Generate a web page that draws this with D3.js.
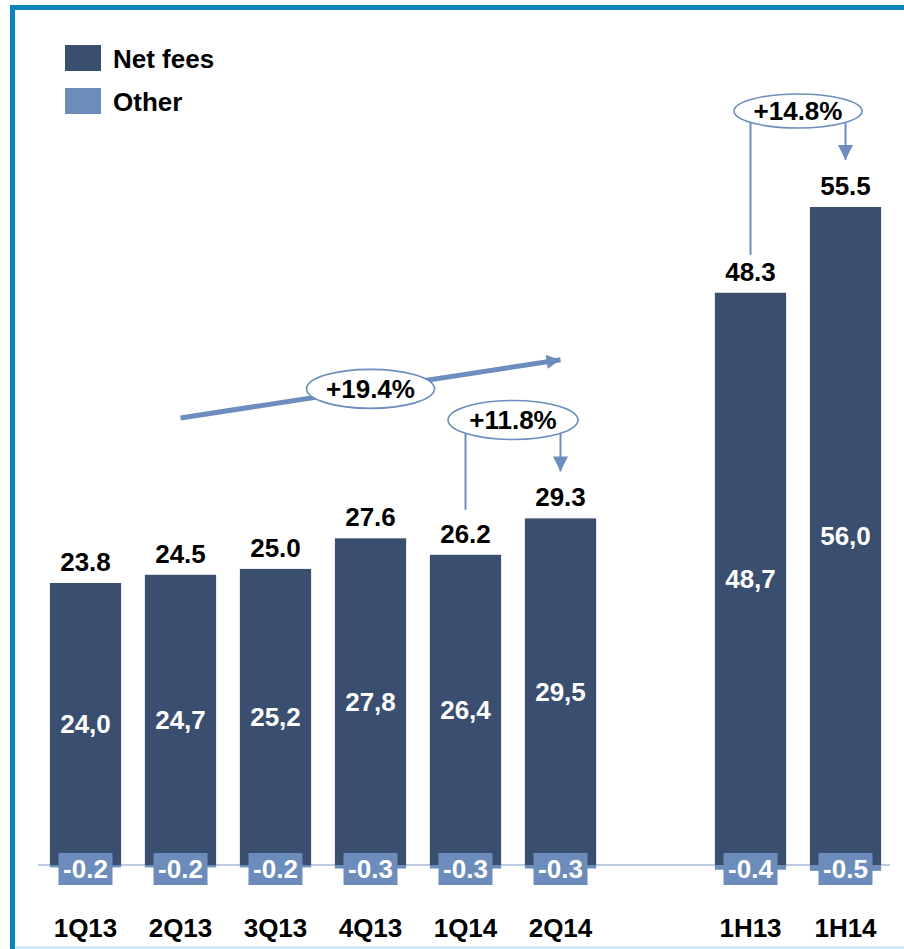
<!DOCTYPE html>
<html>
<head>
<meta charset="utf-8">
<script src="https://cdn.jsdelivr.net/npm/d3@7"></script>
<style>
  body { margin: 0; background: #fff; }
  svg text { font-family: "Liberation Sans", Arial, sans-serif; font-weight: bold; }
</style>
</head>
<body>
<div id="chart"></div>
<script>
// data
const categories = ["1Q13", "2Q13", "3Q13", "4Q13", "1Q14", "2Q14", "1H13", "1H14"];
const netFees = [24.0, 24.7, 25.2, 27.8, 26.4, 29.5, 48.7, 56.0];
const other = [-0.2, -0.2, -0.2, -0.3, -0.3, -0.3, -0.4, -0.5];
const totals = [23.8, 24.5, 25.0, 27.6, 26.2, 29.3, 48.3, 55.5];
const seriesNames = ["Net fees", "Other"];

const width = 904, height = 949;
const navy = "#3a4e70", light = "#6c8cbb", arrowCol = "#6c8dbd";
const fs = 26;

var svg = d3.select("#chart").append("svg")
  .attr("width", width)
  .attr("height", height);

// frame
svg.append("rect").attr("x", 10).attr("y", 5).attr("width", width).attr("height", 5).attr("fill", "#0a85ba");
svg.append("rect").attr("x", 10).attr("y", 5).attr("width", 5).attr("height", height).attr("fill", "#0a85ba");
svg.append("rect").attr("x", 15).attr("y", 946).attr("width", width).attr("height", 3).attr("fill", "#d4ecf6");

// a blank slot between quarters and halves
const domain = [...categories.slice(0, 6), "_gap", ...categories.slice(6)];

var x = d3.scaleBand()
  .domain(domain)
  .range([38, 893])
  .paddingInner(0.25)
  .paddingOuter(0.125);

var y = d3.scaleLinear()
  .domain([0, 56])
  .range([865, 207]);

const cx = c => x(c) + x.bandwidth() / 2;
const data = categories.map((c, i) => ({ key: c, net: netFees[i], other: other[i], total: totals[i] }));

// baseline
svg.append("line")
  .attr("x1", 38).attr("x2", 890)
  .attr("y1", y(0)).attr("y2", y(0))
  .attr("stroke", "#bccbe2").attr("stroke-width", 2);

// net fees bars
svg.selectAll(".bar")
  .data(data)
  .enter()
  .append("rect")
  .attr("class", "bar")
  .attr("x", d => x(d.key))
  .attr("width", x.bandwidth())
  .attr("y", d => y(d.net))
  .attr("height", d => y(0) - y(d.net))
  .style("fill", navy);

// other (negative) bars
svg.selectAll(".neg")
  .data(data)
  .enter()
  .append("rect")
  .attr("class", "neg")
  .attr("x", d => x(d.key))
  .attr("width", x.bandwidth())
  .attr("y", y(0))
  .attr("height", d => y(d.other) - y(0))
  .style("fill", light);

// labels inside bars
svg.selectAll(".inner")
  .data(data)
  .enter()
  .append("text")
  .attr("class", "inner")
  .attr("x", d => cx(d.key))
  .attr("y", d => (y(d.net) + y(0)) / 2 + 9)
  .attr("text-anchor", "middle")
  .attr("font-size", fs)
  .attr("fill", "#fff")
  .text(d => d.net.toFixed(1).replace(".", ","));

// totals above bars
svg.selectAll(".total")
  .data(data)
  .enter()
  .append("text")
  .attr("class", "total")
  .attr("x", d => cx(d.key))
  .attr("y", d => y(d.net) - 12)
  .attr("text-anchor", "middle")
  .attr("font-size", fs)
  .attr("fill", "#000")
  .text(d => d.total.toFixed(1));

// other value boxes
var boxes = svg.selectAll(".otherBox")
  .data(data)
  .enter()
  .append("g")
  .attr("class", "otherBox")
  .attr("transform", d => `translate(${cx(d.key)}, ${y(0) + 4})`);

boxes.append("rect")
  .attr("x", -27).attr("y", -16)
  .attr("width", 54).attr("height", 32)
  .attr("fill", light);

boxes.append("text")
  .attr("y", 9)
  .attr("text-anchor", "middle")
  .attr("font-size", fs)
  .attr("fill", "#fff")
  .text(d => d.other.toFixed(1));

// category labels
svg.selectAll(".cat")
  .data(categories)
  .enter()
  .append("text")
  .attr("class", "cat")
  .attr("x", d => cx(d))
  .attr("y", 937)
  .attr("text-anchor", "middle")
  .attr("font-size", fs)
  .attr("fill", "#000")
  .text(d => d);

// legend
var legend = svg.selectAll(".legend")
  .data(seriesNames)
  .enter()
  .append("g")
  .attr("class", "legend")
  .attr("transform", (d, i) => `translate(65, ${45 + i * 43})`);

legend.append("rect")
  .attr("width", 36).attr("height", 26)
  .attr("fill", (d, i) => i === 0 ? navy : light);

legend.append("text")
  .attr("x", 48).attr("y", 23)
  .attr("font-size", fs)
  .attr("fill", "#000")
  .text(d => d);

// arrow markers
var defs = svg.append("defs");
defs.append("marker")
  .attr("id", "headBig")
  .attr("viewBox", "0 0 10 10")
  .attr("refX", 10).attr("refY", 5)
  .attr("markerUnits", "userSpaceOnUse")
  .attr("markerWidth", 16).attr("markerHeight", 14)
  .attr("orient", "auto")
  .append("path").attr("d", "M0,0 L10,5 L0,10 Z").attr("fill", arrowCol);

defs.append("marker")
  .attr("id", "headSmall")
  .attr("viewBox", "0 0 10 10")
  .attr("refX", 10).attr("refY", 5)
  .attr("markerUnits", "userSpaceOnUse")
  .attr("markerWidth", 15).attr("markerHeight", 15)
  .attr("orient", "auto")
  .append("path").attr("d", "M0,0 L10,5 L0,10 Z").attr("fill", arrowCol);

function ellipseLabel(px, py, rx, ry, txt) {
  svg.append("ellipse")
    .attr("cx", px).attr("cy", py)
    .attr("rx", rx).attr("ry", ry)
    .attr("fill", "#fff")
    .attr("stroke", arrowCol).attr("stroke-width", 1.6);
  svg.append("text")
    .attr("x", px).attr("y", py + 9)
    .attr("text-anchor", "middle")
    .attr("font-size", fs)
    .attr("fill", "#000")
    .text(txt);
}

// +19.4% : 2Q13 -> 2Q14 trend arrow
const t0 = { x: cx("2Q13"), y: y(38.05) }, t1 = { x: cx("2Q14"), y: y(43) };
svg.append("line")
  .attr("x1", t0.x).attr("y1", t0.y)
  .attr("x2", t1.x).attr("y2", t1.y)
  .attr("stroke", arrowCol).attr("stroke-width", 5)
  .attr("marker-end", "url(#headBig)");
const mx = cx("4Q13");
const my = t0.y + (mx - t0.x) / (t1.x - t0.x) * (t1.y - t0.y);
ellipseLabel(mx, my, 64, 19.5, "+19.4%");

// brackets: +11.8% (1Q14 -> 2Q14), +14.8% (1H13 -> 1H14)
function bracket(a, b, topY, startY, tipY, rx, ry, txt) {
  svg.append("line")
    .attr("x1", cx(a)).attr("x2", cx(a))
    .attr("y1", startY).attr("y2", topY)
    .attr("stroke", arrowCol).attr("stroke-width", 2);
  svg.append("line")
    .attr("x1", cx(b)).attr("x2", cx(b))
    .attr("y1", topY).attr("y2", tipY)
    .attr("stroke", arrowCol).attr("stroke-width", 2)
    .attr("marker-end", "url(#headSmall)");
  ellipseLabel((cx(a) + cx(b)) / 2, topY, rx, ry, txt);
}

bracket("1Q14", "2Q14", 420, y(26.4) - 45, y(29.5) - 47, 65, 19.5, "+11.8%");
bracket("1H13", "1H14", 111, y(48.7) - 38, y(56.0) - 47, 64, 17, "+14.8%");
</script>
</body>
</html>
